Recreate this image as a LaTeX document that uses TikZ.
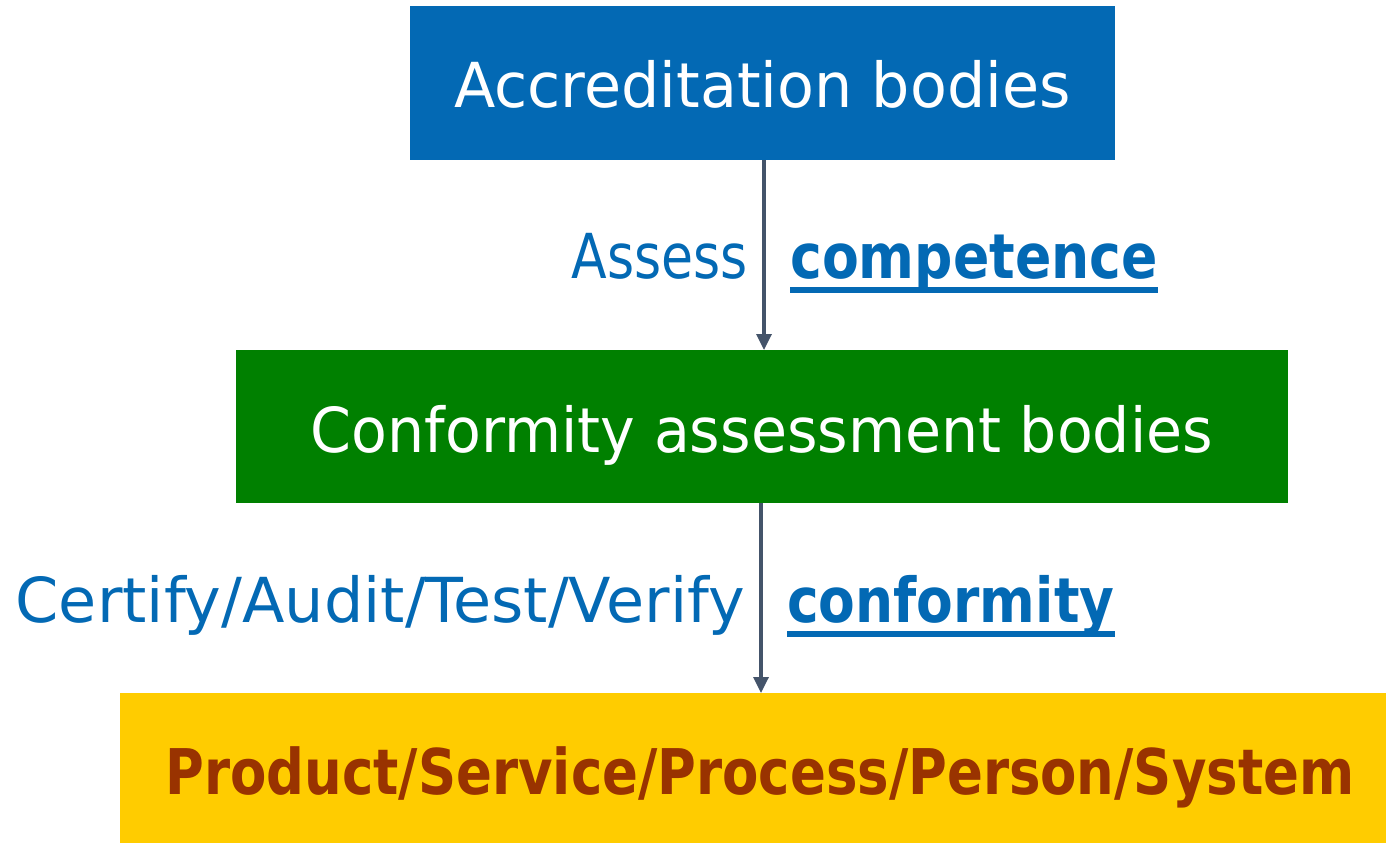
\documentclass[tikz,border=0pt]{standalone}
\usepackage{fontspec}
\setmainfont{DejaVu Sans}
\usetikzlibrary{arrows.meta}
\definecolor{accblue}{RGB}{3,105,180}
\definecolor{cabgreen}{RGB}{0,128,0}
\definecolor{prodyellow}{RGB}{255,204,0}
\definecolor{prodbrown}{RGB}{153,51,0}
\definecolor{arrowgray}{RGB}{68,84,106}
\tikzset{
  flow/.style={draw=arrowgray, line width=3.3pt, -{Triangle[length=16pt,width=15pt]}},
  boxtext/.style={inner sep=0pt, text=white, font=\fontsize{62}{62}\selectfont},
  lbl/.style={inner sep=0pt, text=accblue, font=\fontsize{62}{62}\selectfont},
  uline/.style={draw=accblue, line width=5.5pt},
}
\begin{document}
\begin{tikzpicture}[x=1pt,y=-1pt]
\useasboundingbox (0,0) rectangle (1386,843);
% boxes
\fill[accblue] (410,6) rectangle (1115,160);
\fill[cabgreen] (236,350) rectangle (1288,503);
\fill[prodyellow] (120,693) rectangle (1386,843);
\node[boxtext, anchor=base] (acct) at (762.5,107) {\scalebox{0.973}[1]{Accreditation bodies}};
\node[boxtext, anchor=base] (cabt) at (762,452) {\scalebox{0.945}[1]{Conformity assessment bodies}};
\node[inner sep=0pt, text=prodbrown, anchor=base, font=\fontsize{63}{63}\selectfont\bfseries] (prodt) at (760,794) {\scalebox{0.84}[1]{Product/Service/Process/Person/System}};
% connectors
\coordinate (a1s) at (764,160);
\coordinate (a1e) at (764,350);
\coordinate (a2s) at (761,503);
\coordinate (a2e) at (761,693);
\draw[flow] (a1s) -- (a1e);
\draw[flow] (a2s) -- (a2e);
% labels
\node[lbl, anchor=base east] (assess) at (748,278) {\scalebox{0.84}[1]{Assess}};
\node[lbl, anchor=base west] (comp) at (790,278) {\scalebox{0.865}[1]{\textbf{competence}}};
\node[lbl, anchor=base east] (cert) at (745,622) {\scalebox{1.0}[1]{Certify/Audit/Test/Verify}};
\node[lbl, anchor=base west] (conf) at (787,622) {\scalebox{0.862}[1]{\textbf{conformity}}};
\draw[uline] ([yshift=-12pt]comp.base west) -- ([yshift=-12pt]comp.base east);
\draw[uline] ([yshift=-12pt]conf.base west) -- ([yshift=-12pt]conf.base east);
\end{tikzpicture}
\end{document}
